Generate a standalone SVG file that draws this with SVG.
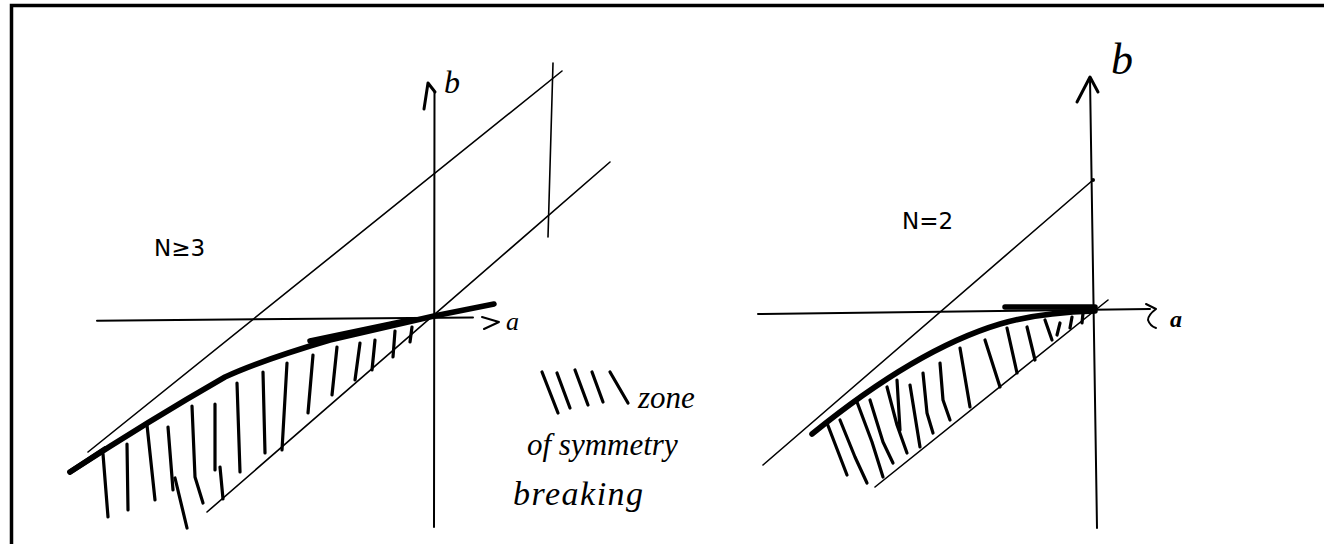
<svg xmlns="http://www.w3.org/2000/svg" width="1324" height="544" viewBox="0 0 1324 544">
<style>
.thin{fill:none;stroke:#000;stroke-width:1.6;stroke-linecap:round}
.axis{fill:none;stroke:#000;stroke-width:2;stroke-linecap:round;stroke-linejoin:round}
.arrow{fill:none;stroke:#000;stroke-width:3;stroke-linecap:round;stroke-linejoin:round}
.thick{fill:none;stroke:#000;stroke-width:5.5;stroke-linecap:round;stroke-linejoin:round}
.hatch{fill:none;stroke:#000;stroke-width:3.2;stroke-linecap:round;stroke-linejoin:round}
.lbl{font-family:"DejaVu Sans","Noto Sans",sans-serif;font-size:23px;fill:#000}
.hand{font-family:"Liberation Serif",serif;font-style:italic;fill:#000}
</style>
<rect width="1324" height="544" fill="#fff"/>
<g id="frame"><path d="M11.5,544 V5.5 H1324" fill="none" stroke="#000" stroke-width="3.5"/></g>

<g id="left-plot">
  <path class="axis" d="M97,320.7 L473,317.5"/>
  <path class="axis" d="M482,317 L499,322 L484,329"/>
  <path class="axis" d="M434.5,92 L434,527"/>
  <path class="arrow" d="M424,109 L428,83 L435,92"/>
  <text class="hand" x="444" y="93" font-size="32">b</text>
  <text class="hand" x="506" y="330" font-size="26">a</text>
  <path class="thin" d="M88,452 L562,71"/>
  <path class="thin" d="M207,512 L610,162"/>
  <path class="thin" d="M553,63 L548,237"/>
  <path class="thick" d="M70,472 Q150,420 225,377 Q262,360 330,340 L434,316 L494,304"/>
  <path class="thick" stroke-width="8" d="M70,472 L105,449"/>
  <path class="thick" stroke-width="4" d="M310,341 L410,320"/>
  <g id="left-hatch">
    <path class="hatch" d="M103,454 L108,517"/>
    <path class="hatch" d="M127,444 L128,510"/>
    <path class="hatch" d="M147,425 L155,500"/>
    <path class="hatch" d="M168,427 L173,490"/>
    <path class="hatch" d="M175,478 L187,528"/>
    <path class="hatch" d="M192,406 L195,477 L203,503"/>
    <path class="hatch" d="M215,404 L215,470"/>
    <path class="hatch" d="M220,467 L223,499"/>
    <path class="hatch" d="M237,383 L240,472"/>
    <path class="hatch" d="M263,372 L265,453"/>
    <path class="hatch" d="M287,363 L282,450"/>
    <path class="hatch" d="M313,355 L308,413"/>
    <path class="hatch" d="M337,347 L332,395"/>
    <path class="hatch" d="M360,343 L355,380"/>
    <path class="hatch" d="M375,340 L372,370"/>
    <path class="hatch" d="M395,331 L393,357"/>
    <path class="hatch" d="M412,327 L410,342"/>
  </g>
  <text class="lbl" x="154" y="256">N≥3</text>
</g>

<g id="legend">
  <path class="hatch" d="M542,372 L558,413"/>
  <path class="hatch" d="M557,373 L570,408"/>
  <path class="hatch" d="M575,370 L588,405"/>
  <path class="hatch" d="M592,372 L603,402"/>
  <path class="hatch" d="M610,372 L628,403"/>
  <text class="hand" x="638" y="408" font-size="31">zone</text>
  <text class="hand" x="527" y="455" font-size="31">of symmetry</text>
  <text class="hand" x="513" y="505" font-size="34" letter-spacing="1.5">breaking</text>
</g>

<g id="right-plot">
  <path class="axis" d="M758,314 L1150,309"/>
  <path class="axis" d="M1146,304 L1156,309 Q1148,315 1148,320 Q1150,326 1156,328"/>
  <path class="axis" d="M1090,78 L1097,528"/>
  <path class="arrow" d="M1077,102 L1090,77 L1098,92"/>
  <text class="hand" x="1111" y="74" font-size="44">b</text>
  <text class="hand" x="1170" y="327" font-size="24" font-weight="bold">a</text>
  <path class="thin" d="M763,465 L1093,180"/>
  <circle cx="1093" cy="180" r="2"/>
  <path class="thin" d="M875,487 L1108,300"/>
  <path class="thick" d="M812,434 C860,395 930,345 1000,324 C1030,315 1060,312 1095,311"/>
  <path class="thick" stroke-width="5" d="M1005,307 L1095,307"/>
  <g id="right-hatch">
    <path class="hatch" d="M827,423 L847,475"/>
    <path class="hatch" d="M840,420 L855,457 L867,483"/>
    <path class="hatch" d="M857,402 L872,442 L883,477"/>
    <path class="hatch" d="M870,400 L883,442 L893,463"/>
    <path class="hatch" d="M887,387 L897,425 L907,453"/>
    <path class="hatch" d="M897,380 L900,430"/>
    <path class="hatch" d="M910,385 L920,447"/>
    <path class="hatch" d="M923,373 L927,413 L933,433"/>
    <path class="hatch" d="M940,363 L943,400 L950,420"/>
    <path class="hatch" d="M960,348 L970,407"/>
    <path class="hatch" d="M985,340 L1000,387"/>
    <path class="hatch" d="M1007,328 L1017,373"/>
    <path class="hatch" d="M1027,327 L1035,360"/>
    <path class="hatch" d="M1045,320 L1052,340"/>
    <path class="hatch" d="M1060,323 L1057,335"/>
    <path class="hatch" d="M1072,317 L1070,328"/>
    <path class="hatch" d="M1083,313 L1082,323"/>
  </g>
  <text class="lbl" x="902" y="229">N=2</text>
</g>
</svg>
